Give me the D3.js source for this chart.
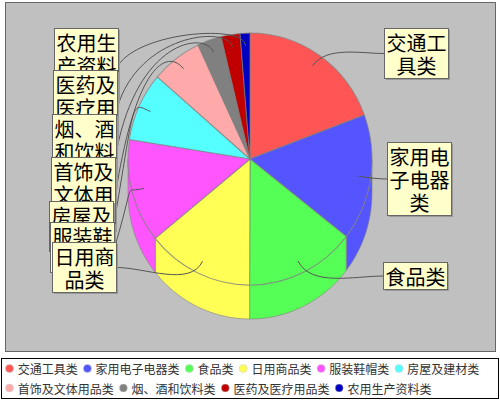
<!DOCTYPE html>
<html>
<head>
<meta charset="utf-8">
<script src="https://cdnjs.cloudflare.com/ajax/libs/d3/7.8.5/d3.min.js"></script>
<style>
  html, body { margin: 0; padding: 0; background: #fff; }
  svg { display: block; font-family: "Noto Sans CJK SC", sans-serif; }
</style>
</head>
<body>
<div id="chart"></div>
<script>
const categories = ["交通工具类", "家用电子电器类", "食品类", "日用商品类", "服装鞋帽类",
  "房屋及建材类", "首饰及文体用品类", "烟、酒和饮料类", "医药及医疗用品类", "农用生产资料类"];
const shares = [19.3, 16.2, 14.5, 14.1, 13.3, 8.8, 6.7, 3.2, 2.5, 1.3];
const colors = ["#FF5555", "#5555FF", "#55FF55", "#FFFF55", "#FF55FF",
  "#55FFFF", "#FFAAAA", "#808080", "#C00000", "#0000C0"];
// top left corner of each label box, same order as categories
const labelLeft = [384.5, 387.5, 383.5, 52.5, 50.5, 49.5, 51.5, 52.5, 53.5, 54.5];
const labelTop = [28.5, 142.5, 262.5, 242.5, 222.5, 201.5, 157.5, 114.5, 70.5, 28.5];
const legendRows = [6, 4];

const width = 500, height = 400;
const cx = 250, cy = 159, rx = 122, ry = 126, depth = 34;
const boxW = 64, lineH = 23;

const svg = d3.select("#chart").append("svg")
  .attr("width", width)
  .attr("height", height);

// plot background
svg.append("rect")
  .attr("x", 5.5).attr("y", 2.5)
  .attr("width", 490).attr("height", 349)
  .attr("fill", "#C0C0C0")
  .attr("stroke", "#666");

const slices = d3.pie().sort(null)(shares);
const px = (a, r = 1) => cx + rx * r * Math.sin(a);
const py = (a, r = 1) => cy - ry * r * Math.cos(a);

// side of the pie, only the front half shows
const side = d3.area()
  .x(a => px(a))
  .y0(a => py(a))
  .y1(a => py(a) + depth);

slices.forEach((d, i) => {
  const a0 = Math.max(d.startAngle, Math.PI / 2);
  const a1 = Math.min(d.endAngle, Math.PI * 1.5);
  if (a1 <= a0) return;
  const steps = d3.range(0, 41).map(k => a0 + (a1 - a0) * k / 40);
  svg.append("path")
    .attr("d", side(steps))
    .attr("fill", colors[i])
    .attr("stroke", "#808080")
    .attr("stroke-opacity", 0.6);
});

// top face, drawn from a round arc and squeezed to the ellipse
const arc = d3.arc().innerRadius(0).outerRadius(rx);
svg.append("g")
  .attr("transform", `translate(${cx},${cy}) scale(1,${ry / rx})`)
  .selectAll("path")
  .data(slices)
  .enter().append("path")
  .attr("d", arc)
  .attr("fill", (d, i) => colors[i])
  .attr("stroke", "#808080")
  .attr("stroke-opacity", 0.7);

// leader lines
const boxHeight = name => Math.ceil(name.length / 3) * lineH + 4;
slices.forEach((d, i) => {
  const mid = (d.startAngle + d.endAngle) / 2;
  const ax = px(mid, 0.9), ay = py(mid, 0.9);
  const onLeft = labelLeft[i] < cx;
  const bx = onLeft ? labelLeft[i] + boxW : labelLeft[i];
  const by = labelTop[i] + boxHeight(categories[i]) / 2;
  // labels stacked below their slice climb steeply out of the box
  const climbs = onLeft && ay < by - 10;
  const k = climbs ? 22 : Math.hypot(bx - ax, by - ay) / 3;
  const path = d3.path();
  path.moveTo(ax, ay);
  path.bezierCurveTo(ax + k * Math.sin(mid), ay - k * Math.cos(mid),
    climbs ? bx + 22 : bx + (onLeft ? k : -k), climbs ? ay - 14 : by,
    bx, by);
  svg.append("path")
    .attr("d", path.toString())
    .attr("fill", "none")
    .attr("stroke", "#555");
});

// label boxes, last category at the bottom of the stack
d3.range(categories.length).reverse().forEach(i => {
  const name = categories[i];
  const h = boxHeight(name);
  const g = svg.append("g").attr("transform", `translate(${labelLeft[i]},${labelTop[i]})`);
  g.append("rect")
    .attr("x", 1.5).attr("y", 1.5)
    .attr("width", boxW).attr("height", h)
    .attr("fill", "#999");
  g.append("rect")
    .attr("width", boxW).attr("height", h)
    .attr("fill", "#FFFFCC")
    .attr("stroke", "#666");
  d3.range(Math.ceil(name.length / 3)).forEach(n => {
    g.append("text")
      .attr("x", boxW / 2)
      .attr("y", 14 + n * lineH)
      .attr("text-anchor", "middle")
      .attr("dominant-baseline", "central")
      .attr("font-size", 20)
      .attr("fill", "#000")
      .text(name.slice(n * 3, n * 3 + 3));
  });
});

// legend
svg.append("rect")
  .attr("x", 1.5).attr("y", 358.5)
  .attr("width", 497).attr("height", 40)
  .attr("fill", "#fff")
  .attr("stroke", "#000");

let idx = 0;
legendRows.forEach((count, row) => {
  let x = 9.5;
  const y = 368.5 + row * 19.5;
  for (let n = 0; n < count; n++, idx++) {
    svg.append("circle")
      .attr("cx", x).attr("cy", y).attr("r", 4)
      .attr("fill", colors[idx])
      .attr("stroke", "#ccc")
      .attr("stroke-width", 0.5);
    svg.append("text")
      .attr("x", x + 8.2).attr("y", y)
      .attr("dominant-baseline", "central")
      .attr("font-size", 12)
      .attr("fill", "#333")
      .text(categories[idx]);
    x += categories[idx].length * 12 + 17.9;
  }
});
</script>
</body>
</html>
